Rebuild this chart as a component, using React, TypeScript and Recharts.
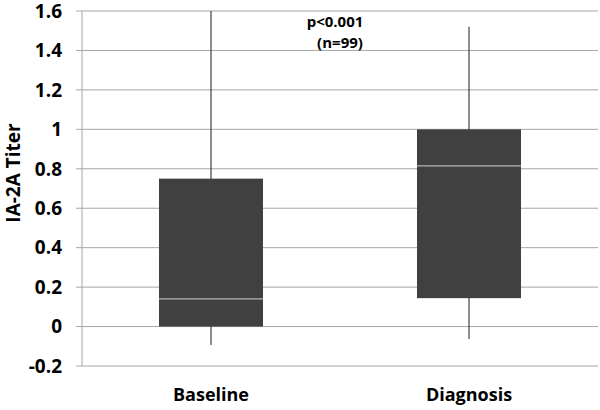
import { Bar, CartesianGrid, ComposedChart, XAxis, YAxis } from "recharts";

// box plot summary
const categories = ["Baseline", "Diagnosis"];
const whiskerLow = [-0.093, -0.063];
const q1 = [0, 0.144];
const median = [0.14, 0.815];
const q3 = [0.75, 1.0];
const whiskerHigh = [1.6, 1.52];

const yTicks = [-0.2, 0, 0.2, 0.4, 0.6, 0.8, 1, 1.2, 1.4, 1.6];

const data = categories.map((name, i) => ({
  name,
  low: whiskerLow[i],
  q1: q1[i],
  median: median[i],
  q3: q3[i],
  high: whiskerHigh[i],
  range: [whiskerLow[i], whiskerHigh[i]],
}));

const font = "'Open Sans', sans-serif";
const gridColor = "#a6a6a6";

function BoxShape(props: any) {
  const { x, y, width, height, payload } = props;
  const top = Math.min(y, y + height);
  const bottom = Math.max(y, y + height);
  const span = payload.high - payload.low;
  const toY = (v: number) => top + ((bottom - top) * (payload.high - v)) / span;
  const cx = x + width / 2;
  const boxTop = toY(payload.q3);
  const boxBottom = toY(payload.q1);
  const med = toY(payload.median);
  return (
    <g>
      <line x1={cx} x2={cx} y1={top} y2={bottom} stroke="#1a1a1a" strokeWidth={1} />
      <rect x={x} y={boxTop} width={width} height={boxBottom - boxTop} fill="#404040" />
      <line x1={x} x2={x + width} y1={med} y2={med} stroke="#b4b4b4" strokeWidth={1.2} />
    </g>
  );
}

function YLabel() {
  return (
    <text
      x={13}
      y={173}
      transform="rotate(-90 13 173)"
      textAnchor="middle"
      dominantBaseline="central"
      fontFamily={font}
      fontWeight={700}
      fontSize={19}
      fill="#000"
    >
      IA-2A Titer
    </text>
  );
}

const noteStyle = {
  position: "absolute" as const,
  transform: "translate(-50%, -50%)",
  fontFamily: font,
  fontWeight: 700,
  fontSize: 15,
  lineHeight: "18px",
  whiteSpace: "nowrap" as const,
};

export default function App() {
  return (
    <div style={{ position: "fixed", left: 0, top: 0, width: 600, height: 410, background: "#fff" }}>
      <ComposedChart
        width={600}
        height={410}
        data={data}
        margin={{ top: 11, right: 2, bottom: 0, left: 0 }}
      >
        <CartesianGrid vertical={false} stroke={gridColor} strokeWidth={1} />
        <XAxis
          dataKey="name"
          axisLine={false}
          tickLine={false}
          tickSize={0}
          tickMargin={22}
          height={44}
          tick={{ fill: "#000", fontSize: 18, fontWeight: 700, fontFamily: font }}
        />
        <YAxis
          type="number"
          domain={[-0.2, 1.6]}
          ticks={yTicks}
          interval={0}
          width={82}
          allowDataOverflow
          axisLine={{ stroke: gridColor }}
          tickLine={{ stroke: gridColor }}
          tickSize={6}
          tickMargin={14}
          tickFormatter={(v: number) => String(v)}
          tick={{ fill: "#000", fontSize: 19, fontWeight: 700, fontFamily: font }}
          label={<YLabel />}
        />
        <Bar dataKey="range" barSize={104} shape={<BoxShape />} isAnimationActive={false} />
      </ComposedChart>
      <div style={{ ...noteStyle, left: 335, top: 21 }}>p&lt;0.001</div>
      <div style={{ ...noteStyle, left: 340, top: 42 }}>(n=99)</div>
    </div>
  );
}
